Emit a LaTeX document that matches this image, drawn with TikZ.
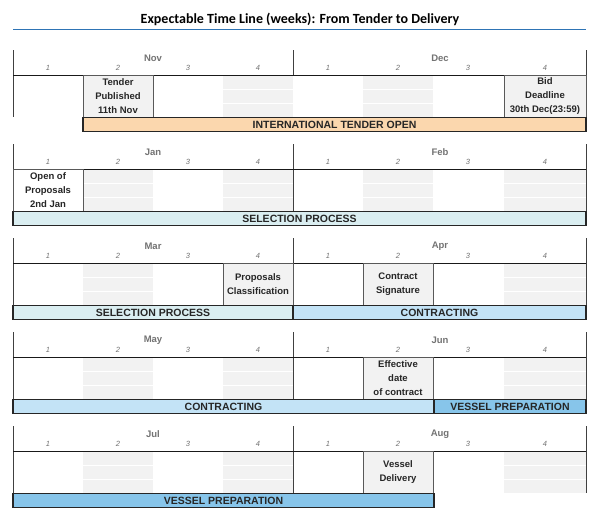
\documentclass[tikz,border=0pt]{standalone}
\usepackage{fontspec}
\setmainfont{Liberation Sans}
\newfontfamily\titlefont{Carlito}
\definecolor{lblgray}{HTML}{737373}
\definecolor{cellgray}{HTML}{F2F2F2}
\definecolor{boxborder}{HTML}{595959}
\definecolor{txt}{HTML}{262626}
\definecolor{framec}{HTML}{404040}
\definecolor{titleline}{HTML}{2E74B5}
\definecolor{orangebar}{HTML}{FBD7AE}
\definecolor{selbar}{HTML}{DAEEF1}
\definecolor{conbar}{HTML}{C3E3F6}
\definecolor{vesbar}{HTML}{87C5EA}
\tikzset{
  monthlbl/.style={font=\bfseries\fontsize{9.5}{11}\selectfont, text=lblgray, inner sep=0pt},
  weeklbl/.style={font=\itshape\fontsize{7.5}{9}\selectfont, text=lblgray, inner sep=0pt},
  frame/.style={draw=framec, line width=1pt},
  evbox/.style={draw=boxborder, line width=0.8pt, fill=cellgray, align=center,
    font=\bfseries\fontsize{9.5}{14}\selectfont, text=txt, inner sep=0pt, outer sep=0pt},
  barbox/.style={draw=black!85, line width=1.2pt, inner sep=0pt, outer sep=0pt,
    minimum height=13.5pt, font=\bfseries\fontsize{10.5}{12}\selectfont, text=txt},
}
\newcommand\graycell[3]{%
  \fill[cellgray] (#1,#3) rectangle (#2,#3+42);
  \draw[white, line width=1pt] (#1,#3+14) -- (#2,#3+14) (#1,#3+28) -- (#2,#3+28);
}
\newcommand\tlblock[5]{% #1 y0, #2 month1, #3 month2, #4 tag, #5 month-line bottom offset
  \draw[frame] (13,#1-25) -- (13,#1+42);
  \draw[frame] (586,#1-25) -- (586,#1+42);
  \draw[frame] (293,#1-25) -- (293,#1+#5);
  \draw[frame, draw=black!90] (13,#1) -- (586,#1);
  \node[monthlbl] (m1#4) at (153,#1-17) {#2};
  \node[monthlbl] (m2#4) at (440,#1-17) {#3};
  \foreach \wx/\wn/\wi in {48/1/a,118/2/b,188/3/c,258/4/d,328/1/e,398/2/f,468/3/g,545/4/h}{
    \node[weeklbl] (w\wi#4) at (\wx,#1-7) {\wn};
  }
}
\begin{document}
\begin{tikzpicture}[x=1pt,y=-1pt]
\useasboundingbox (0,0) rectangle (600,517);
\fill[white] (0,0) rectangle (600,517);
% title
\node[font=\titlefont\bfseries\fontsize{14}{16}\selectfont, inner sep=0pt] (title) at (300,19) {Expectable Time Line (weeks): From Tender to Delivery};
\draw[titleline, line width=1.6pt] (13,29.5) -- (586,29.5);

% block 1
\graycell{223}{293}{75}
\graycell{363}{433}{75}
\tlblock{75}{Nov}{Dec}{A}{0}
\node[evbox, minimum width=70pt, minimum height=42pt] (tender) at (118,96) {Tender\\Published\\11th Nov};
\node[evbox, minimum width=82pt, minimum height=42pt] (bid) at (545,96) {Bid\\Deadline\\30th Dec(23:59)};
\node[barbox, fill=orangebar, minimum width=503pt] (barA) at (334.5,124.5) {INTERNATIONAL TENDER OPEN};

% block 2
\graycell{83}{153}{169}
\graycell{223}{293}{169}
\graycell{363}{433}{169}
\graycell{504}{586}{169}
\tlblock{169}{Jan}{Feb}{B}{42}
\node[evbox, fill=white, minimum width=70pt, minimum height=42pt] (open) at (48,190) {Open of\\Proposals\\2nd Jan};
\node[barbox, fill=selbar, minimum width=573pt] (barB) at (299.5,218.5) {SELECTION PROCESS};

% block 3
\graycell{83}{153}{263}
\graycell{504}{586}{263}
\tlblock{263}{Mar}{Apr}{C}{42}
\node[evbox, minimum width=70pt, minimum height=42pt] (classif) at (258,284) {Proposals\\Classification};
\node[evbox, minimum width=70pt, minimum height=42pt] (sign) at (398,284) {Contract\\Signature};
\node[barbox, fill=selbar, minimum width=280pt] (barC1) at (153,312.5) {SELECTION PROCESS};
\node[barbox, fill=conbar, minimum width=293pt] (barC2) at (439.5,312.5) {CONTRACTING};

% block 4
\graycell{83}{153}{357}
\graycell{223}{293}{357}
\graycell{504}{586}{357}
\tlblock{357}{May}{Jun}{D}{42}
\node[evbox, minimum width=70pt, minimum height=42pt] (effective) at (398,378) {Effective\\date\\of contract};
\node[barbox, fill=conbar, minimum width=421pt] (barD1) at (223.5,406.5) {CONTRACTING};
\node[barbox, fill=vesbar, minimum width=152pt] (barD2) at (510,406.5) {VESSEL PREPARATION};

% block 5
\graycell{83}{153}{451}
\graycell{223}{293}{451}
\graycell{504}{586}{451}
\tlblock{451}{Jul}{Aug}{E}{42}
\node[evbox, minimum width=70pt, minimum height=42pt] (delivery) at (398,472) {Vessel\\Delivery};
\node[barbox, fill=vesbar, minimum width=421pt] (barE) at (223.5,500.5) {VESSEL PREPARATION};
\end{tikzpicture}
\end{document}
